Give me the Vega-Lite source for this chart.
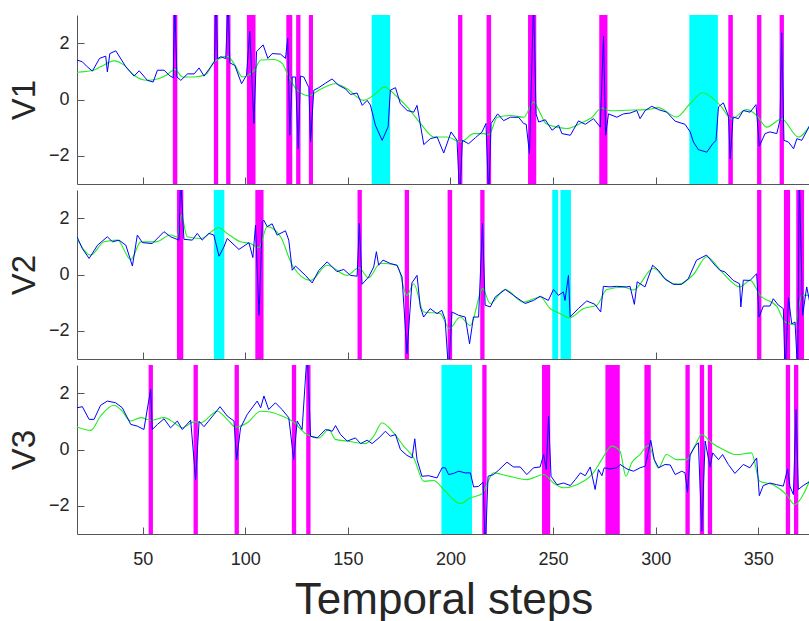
{
"$schema":"https://vega.github.io/schema/vega-lite/v6.json",
"padding":{"left":8,"top":15,"right":0,"bottom":0},
"spacing":6,
"bounds":"flush",
"config":{"view":{"stroke":null},"axis":{"domainColor":"#555555","tickColor":"#555555","tickSize":-7,"grid":false,"labelFont":"Liberation Sans","labelFontSize":18,"labelColor":"#262626","titleFont":"Liberation Sans","titleFontWeight":"normal","titleColor":"#262626"},"axisY":{"labelPadding":15,"titleFontSize":33,"titlePadding":7},"axisX":{"labelPadding":23,"titleFontSize":44,"titlePadding":10}},
"datasets":{
"bands":[
{"v":"V1","k":"m","a":64.7,"b":66.9},{"v":"V1","k":"m","a":84.7,"b":86.8},{"v":"V1","k":"m","a":90.7,"b":92.8},{"v":"V1","k":"m","a":100.8,"b":105},{"v":"V1","k":"m","a":120,"b":122.9},{"v":"V1","k":"m","a":124.8,"b":126.9},{"v":"V1","k":"m","a":131,"b":133},{"v":"V1","k":"m","a":203.7,"b":205.8},{"v":"V1","k":"m","a":217.6,"b":219.8},{"v":"V1","k":"m","a":237.8,"b":241.8},{"v":"V1","k":"m","a":272.5,"b":276.5},{"v":"V1","k":"m","a":335.4,"b":337.6},{"v":"V1","k":"m","a":349.4,"b":351.5},{"v":"V1","k":"m","a":360.4,"b":362.5},{"v":"V1","k":"c","a":161.6,"b":170.6},{"v":"V1","k":"c","a":316.4,"b":330.3},
{"v":"V2","k":"m","a":66.7,"b":69.8},{"v":"V2","k":"m","a":104.9,"b":108.9},{"v":"V2","k":"m","a":154.7,"b":156.8},{"v":"V2","k":"m","a":177.7,"b":179.8},{"v":"V2","k":"m","a":198.6,"b":200.8},{"v":"V2","k":"m","a":214.5,"b":216.6},{"v":"V2","k":"m","a":349.4,"b":351.5},{"v":"V2","k":"m","a":362.5,"b":365.5},{"v":"V2","k":"m","a":368.5,"b":372.3},{"v":"V2","k":"c","a":84.7,"b":89.8},{"v":"V2","k":"c","a":249.6,"b":252.5},{"v":"V2","k":"c","a":253.6,"b":258.7},
{"v":"V3","k":"m","a":52.9,"b":55},{"v":"V3","k":"m","a":74.8,"b":76.9},{"v":"V3","k":"m","a":94.8,"b":96.9},{"v":"V3","k":"m","a":122.7,"b":124.8},{"v":"V3","k":"m","a":129.7,"b":131.8},{"v":"V3","k":"m","a":215.5,"b":217.6},{"v":"V3","k":"m","a":244.6,"b":248.6},{"v":"V3","k":"m","a":275.5,"b":282.5},{"v":"V3","k":"m","a":294.5,"b":297.6},{"v":"V3","k":"m","a":314.5,"b":316.6},{"v":"V3","k":"m","a":321.5,"b":323.6},{"v":"V3","k":"m","a":325.4,"b":327.5},{"v":"V3","k":"m","a":363.4,"b":365.5},{"v":"V3","k":"m","a":367.4,"b":369.5},{"v":"V3","k":"c","a":195.6,"b":210.5}
],
"obs":[
{"v":"V1","t":18,"y":1.40},{"v":"V1","t":20.6,"y":1.34},{"v":"V1","t":23,"y":1.16},{"v":"V1","t":25.5,"y":1.01},{"v":"V1","t":29,"y":1.46},{"v":"V1","t":32,"y":1.54},{"v":"V1","t":32.8,"y":0.98},{"v":"V1","t":34,"y":1.63},{"v":"V1","t":36.9,"y":1.73},{"v":"V1","t":41.8,"y":1.16},{"v":"V1","t":45.8,"y":0.83},{"v":"V1","t":48.3,"y":1.02},{"v":"V1","t":52.3,"y":0.68},{"v":"V1","t":55.1,"y":0.62},{"v":"V1","t":57.2,"y":1.04},{"v":"V1","t":60.5,"y":1.04},{"v":"V1","t":62.9,"y":0.86},{"v":"V1","t":64.9,"y":0.77},{"v":"V1","t":65.6,"y":3.5},{"v":"V1","t":66.7,"y":0.80},{"v":"V1","t":68.6,"y":0.68},{"v":"V1","t":71.9,"y":0.91},{"v":"V1","t":75.1,"y":0.91},{"v":"V1","t":77.5,"y":1.12},{"v":"V1","t":79.9,"y":0.83},{"v":"V1","t":83.2,"y":1.16},{"v":"V1","t":85.0,"y":1.35},{"v":"V1","t":85.7,"y":3.5},{"v":"V1","t":86.5,"y":1.45},{"v":"V1","t":88.1,"y":1.52},{"v":"V1","t":90.5,"y":1.45},{"v":"V1","t":91.6,"y":3.5},{"v":"V1","t":92.5,"y":1.30},{"v":"V1","t":94.9,"y":1.21},{"v":"V1","t":98.2,"y":0.56},{"v":"V1","t":100.6,"y":0.86},{"v":"V1","t":102.2,"y":2.42},{"v":"V1","t":104.2,"y":-0.85},{"v":"V1","t":105.5,"y":1.70},{"v":"V1","t":108.7,"y":1.94},{"v":"V1","t":111,"y":1.46},{"v":"V1","t":113.1,"y":1.63},{"v":"V1","t":117.2,"y":1.61},{"v":"V1","t":119.6,"y":1.46},{"v":"V1","t":120.7,"y":2.17},{"v":"V1","t":121.7,"y":-1.27},{"v":"V1","t":122.9,"y":0.80},{"v":"V1","t":124.5,"y":0.80},{"v":"V1","t":125.8,"y":-1.75},{"v":"V1","t":126.9,"y":0.83},{"v":"V1","t":128.5,"y":0.80},{"v":"V1","t":131,"y":0.42},{"v":"V1","t":131.8,"y":-1.51},{"v":"V1","t":133.4,"y":0.33},{"v":"V1","t":135.8,"y":0.42},{"v":"V1","t":139.1,"y":0.58},{"v":"V1","t":142.3,"y":0.73},{"v":"V1","t":145.6,"y":0.50},{"v":"V1","t":148.8,"y":0.38},{"v":"V1","t":151.3,"y":0.18},{"v":"V1","t":154.5,"y":0.23},{"v":"V1","t":157,"y":-0.21},{"v":"V1","t":159.4,"y":-0.03},{"v":"V1","t":161,"y":-0.2},{"v":"V1","t":163.4,"y":-0.91},{"v":"V1","t":166.7,"y":-1.45},{"v":"V1","t":169.6,"y":-0.97},{"v":"V1","t":170.7,"y":0.33},{"v":"V1","t":173.2,"y":0.42},{"v":"V1","t":175.6,"y":-0.15},{"v":"V1","t":178.9,"y":-0.39},{"v":"V1","t":182.1,"y":-0.45},{"v":"V1","t":183.7,"y":-0.21},{"v":"V1","t":187,"y":-1.60},{"v":"V1","t":190.2,"y":-1.39},{"v":"V1","t":193.5,"y":-1.33},{"v":"V1","t":196.7,"y":-1.90},{"v":"V1","t":200.3,"y":-1.15},{"v":"V1","t":203.2,"y":-1.45},{"v":"V1","t":204.5,"y":-3.5},{"v":"V1","t":205.8,"y":-1.45},{"v":"V1","t":208.8,"y":-1.57},{"v":"V1","t":212.1,"y":-1.36},{"v":"V1","t":215.4,"y":-1.15},{"v":"V1","t":217.3,"y":-0.85},{"v":"V1","t":218.6,"y":-3.5},{"v":"V1","t":219.8,"y":-0.85},{"v":"V1","t":223,"y":-0.51},{"v":"V1","t":225.9,"y":-0.75},{"v":"V1","t":229.2,"y":-0.63},{"v":"V1","t":233.2,"y":-0.63},{"v":"V1","t":235.6,"y":-0.85},{"v":"V1","t":236.9,"y":-0.88},{"v":"V1","t":238.5,"y":-1.92},{"v":"V1","t":240.5,"y":3.5},{"v":"V1","t":241.7,"y":-0.51},{"v":"V1","t":243,"y":-0.80},{"v":"V1","t":246.2,"y":-0.72},{"v":"V1","t":249.5,"y":-1.09},{"v":"V1","t":252.7,"y":-0.91},{"v":"V1","t":254.3,"y":-1.21},{"v":"V1","t":258.4,"y":-1.27},{"v":"V1","t":262.4,"y":-0.76},{"v":"V1","t":265.7,"y":-0.88},{"v":"V1","t":269.7,"y":-0.68},{"v":"V1","t":273,"y":-0.98},{"v":"V1","t":274.6,"y":2.25},{"v":"V1","t":275.6,"y":-1.27},{"v":"V1","t":277,"y":-0.51},{"v":"V1","t":281.1,"y":-0.63},{"v":"V1","t":284.3,"y":-0.51},{"v":"V1","t":287.6,"y":-0.48},{"v":"V1","t":290.8,"y":-0.39},{"v":"V1","t":292.4,"y":-0.68},{"v":"V1","t":294.9,"y":-0.39},{"v":"V1","t":298.1,"y":-0.24},{"v":"V1","t":301.4,"y":-0.36},{"v":"V1","t":305.4,"y":-0.45},{"v":"V1","t":309.5,"y":-0.77},{"v":"V1","t":314.3,"y":-0.88},{"v":"V1","t":316.8,"y":-1.15},{"v":"V1","t":318.4,"y":-1.51},{"v":"V1","t":320.8,"y":-1.78},{"v":"V1","t":324.9,"y":-1.87},{"v":"V1","t":327.8,"y":-1.57},{"v":"V1","t":329.4,"y":-1.45},{"v":"V1","t":330.6,"y":-0.26},{"v":"V1","t":333,"y":-0.12},{"v":"V1","t":335.5,"y":-0.60},{"v":"V1","t":336.3,"y":-2.10},{"v":"V1","t":337.7,"y":-0.62},{"v":"V1","t":340.3,"y":-0.68},{"v":"V1","t":342.7,"y":-0.39},{"v":"V1","t":346,"y":-0.45},{"v":"V1","t":348.9,"y":-0.18},{"v":"V1","t":350.5,"y":-1.66},{"v":"V1","t":353.3,"y":-1.21},{"v":"V1","t":355.7,"y":-1.15},{"v":"V1","t":359,"y":-1.21},{"v":"V1","t":360.6,"y":-0.73},{"v":"V1","t":361.4,"y":2.37},{"v":"V1","t":362.5,"y":-1.45},{"v":"V1","t":364.7,"y":-1.51},{"v":"V1","t":367.2,"y":-1.75},{"v":"V1","t":368.8,"y":-1.39},{"v":"V1","t":371.2,"y":-1.45},{"v":"V1","t":375.2,"y":-0.91},
{"v":"V2","t":18,"y":1.34},{"v":"V2","t":20.6,"y":0.92},{"v":"V2","t":23.9,"y":0.57},{"v":"V2","t":28,"y":1.04},{"v":"V2","t":32.8,"y":1.34},{"v":"V2","t":35.3,"y":1.16},{"v":"V2","t":38.5,"y":1.22},{"v":"V2","t":41.8,"y":1.04},{"v":"V2","t":45,"y":0.30},{"v":"V2","t":47.4,"y":1.40},{"v":"V2","t":49.9,"y":1.13},{"v":"V2","t":54.7,"y":1.10},{"v":"V2","t":60.4,"y":1.52},{"v":"V2","t":63.6,"y":1.34},{"v":"V2","t":67.7,"y":1.22},{"v":"V2","t":68.5,"y":3.5},{"v":"V2","t":70.1,"y":1.25},{"v":"V2","t":74.2,"y":1.22},{"v":"V2","t":76.6,"y":1.46},{"v":"V2","t":79,"y":1.22},{"v":"V2","t":82.3,"y":1.46},{"v":"V2","t":84.7,"y":1.40},{"v":"V2","t":87.2,"y":0.65},{"v":"V2","t":89.6,"y":0.98},{"v":"V2","t":91.2,"y":1.28},{"v":"V2","t":96.9,"y":0.89},{"v":"V2","t":101.8,"y":1.13},{"v":"V2","t":103.7,"y":0.60},{"v":"V2","t":105,"y":1.75},{"v":"V2","t":106.7,"y":-1.45},{"v":"V2","t":108.3,"y":1.87},{"v":"V2","t":109,"y":1.93},{"v":"V2","t":110.7,"y":1.70},{"v":"V2","t":113.1,"y":1.80},{"v":"V2","t":115.5,"y":1.40},{"v":"V2","t":119.6,"y":1.55},{"v":"V2","t":121.2,"y":1.22},{"v":"V2","t":122.9,"y":0.15},{"v":"V2","t":124.5,"y":0.30},{"v":"V2","t":129.3,"y":-0.03},{"v":"V2","t":132.6,"y":-0.30},{"v":"V2","t":135.8,"y":0.14},{"v":"V2","t":139.9,"y":0.45},{"v":"V2","t":144.7,"y":0.10},{"v":"V2","t":148,"y":0.18},{"v":"V2","t":151.2,"y":-0.03},{"v":"V2","t":154.5,"y":-0.06},{"v":"V2","t":155.6,"y":1.81},{"v":"V2","t":156.9,"y":-0.35},{"v":"V2","t":160.1,"y":-0.09},{"v":"V2","t":162.6,"y":0.27},{"v":"V2","t":163.9,"y":0.81},{"v":"V2","t":165,"y":0.33},{"v":"V2","t":167.1,"y":0.51},{"v":"V2","t":170.7,"y":0.39},{"v":"V2","t":173.9,"y":0.33},{"v":"V2","t":176.4,"y":-0.09},{"v":"V2","t":178.8,"y":-2.81},{"v":"V2","t":181.2,"y":-0.3},{"v":"V2","t":183.7,"y":-0.03},{"v":"V2","t":185.3,"y":-1.15},{"v":"V2","t":186.9,"y":-1.51},{"v":"V2","t":190.1,"y":-1.21},{"v":"V2","t":193.4,"y":-1.39},{"v":"V2","t":195.8,"y":-1.27},{"v":"V2","t":197.4,"y":-1.60},{"v":"V2","t":199.1,"y":-3.5},{"v":"V2","t":200.7,"y":-1.33},{"v":"V2","t":204,"y":-1.45},{"v":"V2","t":207.2,"y":-1.51},{"v":"V2","t":209.3,"y":-2.46},{"v":"V2","t":211.2,"y":-1.51},{"v":"V2","t":213.7,"y":-1.51},{"v":"V2","t":215.6,"y":1.81},{"v":"V2","t":216.9,"y":-1.09},{"v":"V2","t":219.4,"y":-1.15},{"v":"V2","t":221.8,"y":-0.80},{"v":"V2","t":226.7,"y":-0.53},{"v":"V2","t":230.7,"y":-0.74},{"v":"V2","t":236.4,"y":-1.03},{"v":"V2","t":240.5,"y":-0.92},{"v":"V2","t":243.7,"y":-0.77},{"v":"V2","t":247.7,"y":-0.92},{"v":"V2","t":250.2,"y":-0.53},{"v":"V2","t":252.6,"y":-0.74},{"v":"V2","t":255,"y":-0.62},{"v":"V2","t":255.8,"y":-0.92},{"v":"V2","t":257.5,"y":-0.03},{"v":"V2","t":258.3,"y":-1.51},{"v":"V2","t":262.3,"y":-1.21},{"v":"V2","t":266.4,"y":-0.94},{"v":"V2","t":270.4,"y":-1.06},{"v":"V2","t":273.2,"y":-1.33},{"v":"V2","t":274.5,"y":-0.42},{"v":"V2","t":277.7,"y":-0.44},{"v":"V2","t":281,"y":-0.42},{"v":"V2","t":285.9,"y":-0.44},{"v":"V2","t":287.5,"y":-0.42},{"v":"V2","t":289.6,"y":-1.06},{"v":"V2","t":291,"y":-0.26},{"v":"V2","t":294.8,"y":-0.44},{"v":"V2","t":298.5,"y":0.33},{"v":"V2","t":301.3,"y":0.15},{"v":"V2","t":304.5,"y":-0.15},{"v":"V2","t":308.6,"y":-0.35},{"v":"V2","t":312.6,"y":-0.35},{"v":"V2","t":315.9,"y":-0.15},{"v":"V2","t":319.9,"y":0.51},{"v":"V2","t":324.8,"y":0.69},{"v":"V2","t":328.9,"y":0.33},{"v":"V2","t":331.3,"y":0.15},{"v":"V2","t":333.8,"y":0.09},{"v":"V2","t":337.8,"y":-0.21},{"v":"V2","t":340.9,"y":-0.33},{"v":"V2","t":341.5,"y":-1.15},{"v":"V2","t":342.7,"y":-0.20},{"v":"V2","t":346,"y":-0.21},{"v":"V2","t":349.2,"y":0.03},{"v":"V2","t":350.4,"y":-1.51},{"v":"V2","t":352.5,"y":-1.12},{"v":"V2","t":355.7,"y":-1.12},{"v":"V2","t":357.3,"y":-0.86},{"v":"V2","t":359.8,"y":-1.09},{"v":"V2","t":362.2,"y":-1.21},{"v":"V2","t":363.1,"y":-3.5},{"v":"V2","t":364.7,"y":-0.82},{"v":"V2","t":366.3,"y":-1.75},{"v":"V2","t":367.9,"y":-1.69},{"v":"V2","t":369.2,"y":-3.5},{"v":"V2","t":370,"y":3.5},{"v":"V2","t":371.6,"y":-1.45},{"v":"V2","t":373.6,"y":-0.44},{"v":"V2","t":375.2,"y":-1.03},
{"v":"V3","t":18,"y":1.48},{"v":"V3","t":20.6,"y":1.52},{"v":"V3","t":23.9,"y":1.07},{"v":"V3","t":26.3,"y":1.07},{"v":"V3","t":29.5,"y":1.57},{"v":"V3","t":32.8,"y":1.72},{"v":"V3","t":36.8,"y":1.66},{"v":"V3","t":40.1,"y":1.48},{"v":"V3","t":44.2,"y":0.89},{"v":"V3","t":47.4,"y":0.83},{"v":"V3","t":50.6,"y":0.71},{"v":"V3","t":53.9,"y":2.14},{"v":"V3","t":54.7,"y":0.71},{"v":"V3","t":57.2,"y":0.89},{"v":"V3","t":60.4,"y":1.09},{"v":"V3","t":63.6,"y":0.77},{"v":"V3","t":66.9,"y":1.01},{"v":"V3","t":69.3,"y":0.71},{"v":"V3","t":73.4,"y":1.04},{"v":"V3","t":75.8,"y":-1.07},{"v":"V3","t":77.5,"y":1.0},{"v":"V3","t":79.9,"y":0.81},{"v":"V3","t":84.8,"y":1.25},{"v":"V3","t":87.7,"y":1.52},{"v":"V3","t":91.2,"y":1.19},{"v":"V3","t":94.5,"y":1.01},{"v":"V3","t":95.8,"y":-0.36},{"v":"V3","t":97.7,"y":0.77},{"v":"V3","t":101,"y":1.25},{"v":"V3","t":105.8,"y":1.72},{"v":"V3","t":107.5,"y":1.48},{"v":"V3","t":109.1,"y":1.90},{"v":"V3","t":111.4,"y":1.42},{"v":"V3","t":114.7,"y":1.66},{"v":"V3","t":117.9,"y":1.42},{"v":"V3","t":121.2,"y":1.13},{"v":"V3","t":123.6,"y":-0.36},{"v":"V3","t":125.3,"y":1.01},{"v":"V3","t":127.7,"y":0.71},{"v":"V3","t":130.2,"y":3.5},{"v":"V3","t":131.8,"y":0.47},{"v":"V3","t":135.1,"y":0.41},{"v":"V3","t":139.1,"y":0.71},{"v":"V3","t":142.4,"y":0.65},{"v":"V3","t":144,"y":0.85},{"v":"V3","t":146.4,"y":0.53},{"v":"V3","t":149.7,"y":0.30},{"v":"V3","t":153.7,"y":0.41},{"v":"V3","t":156.2,"y":0.21},{"v":"V3","t":159.4,"y":0.33},{"v":"V3","t":161.8,"y":0.21},{"v":"V3","t":165.1,"y":0.41},{"v":"V3","t":168.3,"y":0.65},{"v":"V3","t":170.7,"y":0.47},{"v":"V3","t":173.2,"y":0.53},{"v":"V3","t":175.6,"y":0.00},{"v":"V3","t":178.8,"y":-0.21},{"v":"V3","t":181.3,"y":-0.30},{"v":"V3","t":182.6,"y":0.38},{"v":"V3","t":183.7,"y":-0.36},{"v":"V3","t":186.1,"y":-0.95},{"v":"V3","t":189.4,"y":-0.93},{"v":"V3","t":193.4,"y":-1.01},{"v":"V3","t":195.9,"y":-0.65},{"v":"V3","t":197.5,"y":-0.65},{"v":"V3","t":199.1,"y":-0.89},{"v":"V3","t":201.5,"y":-0.85},{"v":"V3","t":204,"y":-0.77},{"v":"V3","t":207.2,"y":-0.83},{"v":"V3","t":209.7,"y":-0.83},{"v":"V3","t":211.3,"y":-1.33},{"v":"V3","t":213.7,"y":-1.31},{"v":"V3","t":215.9,"y":-1.16},{"v":"V3","t":217,"y":-3.5},{"v":"V3","t":218.3,"y":-0.95},{"v":"V3","t":221,"y":-0.89},{"v":"V3","t":223.5,"y":-0.73},{"v":"V3","t":227.5,"y":-0.45},{"v":"V3","t":230.7,"y":-0.62},{"v":"V3","t":234,"y":-0.62},{"v":"V3","t":237.2,"y":-0.89},{"v":"V3","t":240.5,"y":-0.65},{"v":"V3","t":243.7,"y":-0.62},{"v":"V3","t":245.4,"y":-0.18},{"v":"V3","t":246.7,"y":-0.71},{"v":"V3","t":247.8,"y":1.19},{"v":"V3","t":249,"y":-0.95},{"v":"V3","t":251.9,"y":-1.25},{"v":"V3","t":255.1,"y":-1.19},{"v":"V3","t":258.4,"y":-1.28},{"v":"V3","t":260.8,"y":-1.07},{"v":"V3","t":263.3,"y":-0.83},{"v":"V3","t":265.7,"y":-0.93},{"v":"V3","t":268.1,"y":-0.62},{"v":"V3","t":270.5,"y":-1.42},{"v":"V3","t":272.1,"y":-0.71},{"v":"V3","t":273.8,"y":-0.93},{"v":"V3","t":274.9,"y":-0.65},{"v":"V3","t":277.8,"y":-0.69},{"v":"V3","t":281.1,"y":-0.65},{"v":"V3","t":282.7,"y":-0.53},{"v":"V3","t":286,"y":-0.69},{"v":"V3","t":289.2,"y":-0.77},{"v":"V3","t":292.4,"y":-0.65},{"v":"V3","t":294.9,"y":-0.59},{"v":"V3","t":297.6,"y":0.33},{"v":"V3","t":299.3,"y":-0.36},{"v":"V3","t":301.4,"y":-0.65},{"v":"V3","t":304.6,"y":-0.53},{"v":"V3","t":307.1,"y":-0.55},{"v":"V3","t":309.5,"y":-0.89},{"v":"V3","t":312.7,"y":-0.77},{"v":"V3","t":314.3,"y":-0.83},{"v":"V3","t":315.5,"y":-1.52},{"v":"V3","t":316.8,"y":-0.18},{"v":"V3","t":319.2,"y":0.12},{"v":"V3","t":320.8,"y":0.24},{"v":"V3","t":322.5,"y":-2.9},{"v":"V3","t":324.1,"y":0.30},{"v":"V3","t":326.5,"y":-0.62},{"v":"V3","t":327.8,"y":-0.12},{"v":"V3","t":330.6,"y":-0.36},{"v":"V3","t":332.6,"y":-0.18},{"v":"V3","t":335.4,"y":-0.53},{"v":"V3","t":338.6,"y":-0.85},{"v":"V3","t":342.7,"y":-0.53},{"v":"V3","t":345.9,"y":-0.65},{"v":"V3","t":349.2,"y":-0.30},{"v":"V3","t":350.5,"y":-1.64},{"v":"V3","t":352.4,"y":-1.28},{"v":"V3","t":355.7,"y":-1.19},{"v":"V3","t":359,"y":-1.25},{"v":"V3","t":362.2,"y":-1.30},{"v":"V3","t":364.3,"y":-0.69},{"v":"V3","t":365.4,"y":-1.30},{"v":"V3","t":367.1,"y":-1.60},{"v":"V3","t":368.4,"y":1.42},{"v":"V3","t":369.5,"y":-1.42},{"v":"V3","t":371.9,"y":-1.28},{"v":"V3","t":375.2,"y":-1.13}
],
"smooth":[
{"v":"V1","t":18,"y":0.97},{"v":"V1","t":25.5,"y":1.03},{"v":"V1","t":29.5,"y":1.16},{"v":"V1","t":36,"y":1.37},{"v":"V1","t":40.9,"y":1.22},{"v":"V1","t":45.8,"y":0.86},{"v":"V1","t":52.3,"y":0.68},{"v":"V1","t":57.2,"y":0.73},{"v":"V1","t":62.1,"y":0.89},{"v":"V1","t":65.7,"y":1.07},{"v":"V1","t":69.4,"y":0.80},{"v":"V1","t":75.1,"y":0.80},{"v":"V1","t":80.8,"y":0.89},{"v":"V1","t":84.8,"y":1.33},{"v":"V1","t":91.3,"y":1.53},{"v":"V1","t":94.6,"y":1.27},{"v":"V1","t":98.7,"y":0.80},{"v":"V1","t":104.4,"y":1.04},{"v":"V1","t":107.6,"y":1.40},{"v":"V1","t":113.9,"y":1.42},{"v":"V1","t":118,"y":1.28},{"v":"V1","t":120.5,"y":0.92},{"v":"V1","t":125.3,"y":0.33},{"v":"V1","t":131,"y":0.13},{"v":"V1","t":135.8,"y":0.33},{"v":"V1","t":143.9,"y":0.56},{"v":"V1","t":149.6,"y":0.38},{"v":"V1","t":157.7,"y":-0.03},{"v":"V1","t":162.6,"y":0.15},{"v":"V1","t":167.8,"y":0.45},{"v":"V1","t":173.2,"y":0.15},{"v":"V1","t":178.9,"y":-0.26},{"v":"V1","t":185.4,"y":-0.85},{"v":"V1","t":191.9,"y":-1.33},{"v":"V1","t":198.4,"y":-1.33},{"v":"V1","t":204.9,"y":-1.51},{"v":"V1","t":211.4,"y":-1.21},{"v":"V1","t":216.2,"y":-1.21},{"v":"V1","t":218.7,"y":-1.25},{"v":"V1","t":222.8,"y":-0.63},{"v":"V1","t":229.2,"y":-0.57},{"v":"V1","t":235.7,"y":-0.63},{"v":"V1","t":240.5,"y":-0.09},{"v":"V1","t":243.5,"y":-0.45},{"v":"V1","t":246.5,"y":-0.85},{"v":"V1","t":251.9,"y":-0.98},{"v":"V1","t":256.7,"y":-1.03},{"v":"V1","t":263.2,"y":-0.85},{"v":"V1","t":268.9,"y":-0.64},{"v":"V1","t":273.7,"y":-0.30},{"v":"V1","t":277.8,"y":-0.40},{"v":"V1","t":285.9,"y":-0.38},{"v":"V1","t":295.6,"y":-0.36},{"v":"V1","t":301.3,"y":-0.29},{"v":"V1","t":310.2,"y":-0.62},{"v":"V1","t":316.7,"y":-0.15},{"v":"V1","t":322.9,"y":0.24},{"v":"V1","t":328.1,"y":0.02},{"v":"V1","t":332.2,"y":-0.27},{"v":"V1","t":336.7,"y":-0.69},{"v":"V1","t":344.3,"y":-0.36},{"v":"V1","t":349.2,"y":-0.56},{"v":"V1","t":354.1,"y":-0.98},{"v":"V1","t":361.4,"y":-0.69},{"v":"V1","t":369.5,"y":-1.33},{"v":"V1","t":375.2,"y":-0.91},
{"v":"V2","t":18,"y":1.28},{"v":"V2","t":24.7,"y":0.69},{"v":"V2","t":31.2,"y":1.16},{"v":"V2","t":37.7,"y":1.22},{"v":"V2","t":44.2,"y":0.53},{"v":"V2","t":49.1,"y":1.16},{"v":"V2","t":56.4,"y":1.16},{"v":"V2","t":63.6,"y":1.40},{"v":"V2","t":66.9,"y":1.34},{"v":"V2","t":68.8,"y":2.11},{"v":"V2","t":71.7,"y":1.34},{"v":"V2","t":78.2,"y":1.28},{"v":"V2","t":87.1,"y":1.66},{"v":"V2","t":91.2,"y":1.46},{"v":"V2","t":97.7,"y":1.16},{"v":"V2","t":102.5,"y":1.10},{"v":"V2","t":106.6,"y":0.95},{"v":"V2","t":110.7,"y":1.70},{"v":"V2","t":117.2,"y":1.34},{"v":"V2","t":122.9,"y":0.33},{"v":"V2","t":131.8,"y":-0.21},{"v":"V2","t":139.9,"y":0.33},{"v":"V2","t":149.6,"y":-0.03},{"v":"V2","t":155.3,"y":0.24},{"v":"V2","t":160.1,"y":-0.12},{"v":"V2","t":165.8,"y":0.40},{"v":"V2","t":173.9,"y":0.33},{"v":"V2","t":178.8,"y":-0.74},{"v":"V2","t":182.1,"y":-0.33},{"v":"V2","t":186.9,"y":-1.33},{"v":"V2","t":195,"y":-1.39},{"v":"V2","t":199.5,"y":-1.92},{"v":"V2","t":204.7,"y":-1.51},{"v":"V2","t":209.6,"y":-1.81},{"v":"V2","t":215.7,"y":-0.50},{"v":"V2","t":219.3,"y":-1.03},{"v":"V2","t":226.6,"y":-0.53},{"v":"V2","t":235.6,"y":-0.98},{"v":"V2","t":243.7,"y":-0.80},{"v":"V2","t":248.6,"y":-1.21},{"v":"V2","t":253.5,"y":-1.39},{"v":"V2","t":258,"y":-1.54},{"v":"V2","t":264.8,"y":-1.21},{"v":"V2","t":271.3,"y":-1.09},{"v":"V2","t":276.2,"y":-0.53},{"v":"V2","t":284.3,"y":-0.45},{"v":"V2","t":289.2,"y":-0.55},{"v":"V2","t":298.9,"y":0.22},{"v":"V2","t":305.4,"y":-0.21},{"v":"V2","t":311.1,"y":-0.35},{"v":"V2","t":318.4,"y":0.00},{"v":"V2","t":324.9,"y":0.63},{"v":"V2","t":332.2,"y":0.09},{"v":"V2","t":341.1,"y":-0.44},{"v":"V2","t":346,"y":-0.21},{"v":"V2","t":350.9,"y":-0.74},{"v":"V2","t":359,"y":-1.13},{"v":"V2","t":363.1,"y":-1.69},{"v":"V2","t":367.9,"y":-1.78},{"v":"V2","t":371.2,"y":-0.74},{"v":"V2","t":375.2,"y":-0.74},
{"v":"V3","t":18,"y":0.80},{"v":"V3","t":24.7,"y":0.68},{"v":"V3","t":29.5,"y":1.19},{"v":"V3","t":36,"y":1.57},{"v":"V3","t":39.3,"y":1.42},{"v":"V3","t":44.2,"y":1.01},{"v":"V3","t":49.1,"y":1.13},{"v":"V3","t":53.9,"y":1.04},{"v":"V3","t":60.4,"y":1.13},{"v":"V3","t":65.3,"y":0.95},{"v":"V3","t":69.3,"y":0.77},{"v":"V3","t":75,"y":0.98},{"v":"V3","t":78.3,"y":0.95},{"v":"V3","t":86.4,"y":1.36},{"v":"V3","t":91.2,"y":1.07},{"v":"V3","t":95.3,"y":0.80},{"v":"V3","t":101,"y":0.95},{"v":"V3","t":107.5,"y":1.36},{"v":"V3","t":112.2,"y":1.33},{"v":"V3","t":117.1,"y":1.21},{"v":"V3","t":122.8,"y":1.01},{"v":"V3","t":130.1,"y":0.53},{"v":"V3","t":135.8,"y":0.41},{"v":"V3","t":140.7,"y":0.71},{"v":"V3","t":143.9,"y":0.36},{"v":"V3","t":149.6,"y":0.30},{"v":"V3","t":158.5,"y":0.21},{"v":"V3","t":162.6,"y":0.47},{"v":"V3","t":166.6,"y":0.95},{"v":"V3","t":172.3,"y":0.59},{"v":"V3","t":177.2,"y":0.12},{"v":"V3","t":182.1,"y":-0.30},{"v":"V3","t":187,"y":-1.13},{"v":"V3","t":191.8,"y":-1.10},{"v":"V3","t":196.7,"y":-1.42},{"v":"V3","t":204.8,"y":-1.92},{"v":"V3","t":209.6,"y":-1.72},{"v":"V3","t":215.3,"y":-1.57},{"v":"V3","t":221,"y":-0.83},{"v":"V3","t":227.5,"y":-0.93},{"v":"V3","t":237.2,"y":-1.07},{"v":"V3","t":245.4,"y":-0.89},{"v":"V3","t":250.2,"y":-1.19},{"v":"V3","t":255.1,"y":-1.36},{"v":"V3","t":261.5,"y":-1.25},{"v":"V3","t":269.6,"y":-0.83},{"v":"V3","t":273.7,"y":-0.36},{"v":"V3","t":278.5,"y":0.12},{"v":"V3","t":282.6,"y":-0.06},{"v":"V3","t":285.5,"y":-0.95},{"v":"V3","t":288.3,"y":-0.47},{"v":"V3","t":292.3,"y":-0.18},{"v":"V3","t":296.4,"y":0.14},{"v":"V3","t":301.3,"y":-0.65},{"v":"V3","t":305.3,"y":-0.18},{"v":"V3","t":310.2,"y":-0.36},{"v":"V3","t":315,"y":-0.36},{"v":"V3","t":319.1,"y":0.12},{"v":"V3","t":322.4,"y":0.53},{"v":"V3","t":327.2,"y":0.24},{"v":"V3","t":332.9,"y":0.00},{"v":"V3","t":339.4,"y":-0.18},{"v":"V3","t":346.7,"y":-0.12},{"v":"V3","t":350.7,"y":-1.13},{"v":"V3","t":357.2,"y":-1.25},{"v":"V3","t":363.7,"y":-1.60},{"v":"V3","t":367.8,"y":-1.96},{"v":"V3","t":371.9,"y":-1.60},{"v":"V3","t":375.2,"y":-1.07}
]
},
"vconcat":[
{"width":733,"height":169,"layer":[
{"data":{"name":"bands"},"transform":[{"filter":"datum.v==='V1'"}],"mark":{"type":"rect","clip":true},"encoding":{"x":{"field":"a","type":"quantitative","scale":{"domain":[18,375.2],"nice":false,"zero":false},"axis":{"values":[50,100,150,200,250,300,350],"labels":false},"title":null},"x2":{"field":"b"},"color":{"field":"k","type":"nominal","scale":{"domain":["m","c"],"range":["#ff00ff","#00ffff"]},"legend":null}}},
{"data":{"name":"smooth"},"transform":[{"filter":"datum.v==='V1'"}],"mark":{"type":"line","color":"#22ee22","strokeWidth":1.1,"clip":true,"interpolate":"monotone"},"encoding":{"x":{"field":"t","type":"quantitative","title":null},"y":{"field":"y","type":"quantitative","scale":{"domain":[-3,3],"nice":false,"zero":false},"axis":{"values":[-2,0,2]},"title":"V1"}}},
{"data":{"name":"obs"},"transform":[{"filter":"datum.v==='V1'"}],"mark":{"type":"line","color":"#0000ff","strokeWidth":1,"clip":true},"encoding":{"x":{"field":"t","type":"quantitative","title":null},"y":{"field":"y","type":"quantitative","title":"V1"}}}
]},
{"width":733,"height":169,"layer":[
{"data":{"name":"bands"},"transform":[{"filter":"datum.v==='V2'"}],"mark":{"type":"rect","clip":true},"encoding":{"x":{"field":"a","type":"quantitative","scale":{"domain":[18,375.2],"nice":false,"zero":false},"axis":{"values":[50,100,150,200,250,300,350],"labels":false},"title":null},"x2":{"field":"b"},"color":{"field":"k","type":"nominal","scale":{"domain":["m","c"],"range":["#ff00ff","#00ffff"]},"legend":null}}},
{"data":{"name":"smooth"},"transform":[{"filter":"datum.v==='V2'"}],"mark":{"type":"line","color":"#22ee22","strokeWidth":1.1,"clip":true,"interpolate":"monotone"},"encoding":{"x":{"field":"t","type":"quantitative","title":null},"y":{"field":"y","type":"quantitative","scale":{"domain":[-3,3],"nice":false,"zero":false},"axis":{"values":[-2,0,2]},"title":"V2"}}},
{"data":{"name":"obs"},"transform":[{"filter":"datum.v==='V2'"}],"mark":{"type":"line","color":"#0000ff","strokeWidth":1,"clip":true},"encoding":{"x":{"field":"t","type":"quantitative","title":null},"y":{"field":"y","type":"quantitative","title":"V2"}}}
]},
{"width":733,"height":169,"layer":[
{"data":{"name":"bands"},"transform":[{"filter":"datum.v==='V3'"}],"mark":{"type":"rect","clip":true},"encoding":{"x":{"field":"a","type":"quantitative","scale":{"domain":[18,375.2],"nice":false,"zero":false},"axis":{"values":[50,100,150,200,250,300,350]},"title":"Temporal steps"},"x2":{"field":"b"},"color":{"field":"k","type":"nominal","scale":{"domain":["m","c"],"range":["#ff00ff","#00ffff"]},"legend":null}}},
{"data":{"name":"smooth"},"transform":[{"filter":"datum.v==='V3'"}],"mark":{"type":"line","color":"#22ee22","strokeWidth":1.1,"clip":true,"interpolate":"monotone"},"encoding":{"x":{"field":"t","type":"quantitative","title":"Temporal steps"},"y":{"field":"y","type":"quantitative","scale":{"domain":[-3,3],"nice":false,"zero":false},"axis":{"values":[-2,0,2]},"title":"V3"}}},
{"data":{"name":"obs"},"transform":[{"filter":"datum.v==='V3'"}],"mark":{"type":"line","color":"#0000ff","strokeWidth":1,"clip":true},"encoding":{"x":{"field":"t","type":"quantitative","title":"Temporal steps"},"y":{"field":"y","type":"quantitative","title":"V3"}}}
]}
]
}
